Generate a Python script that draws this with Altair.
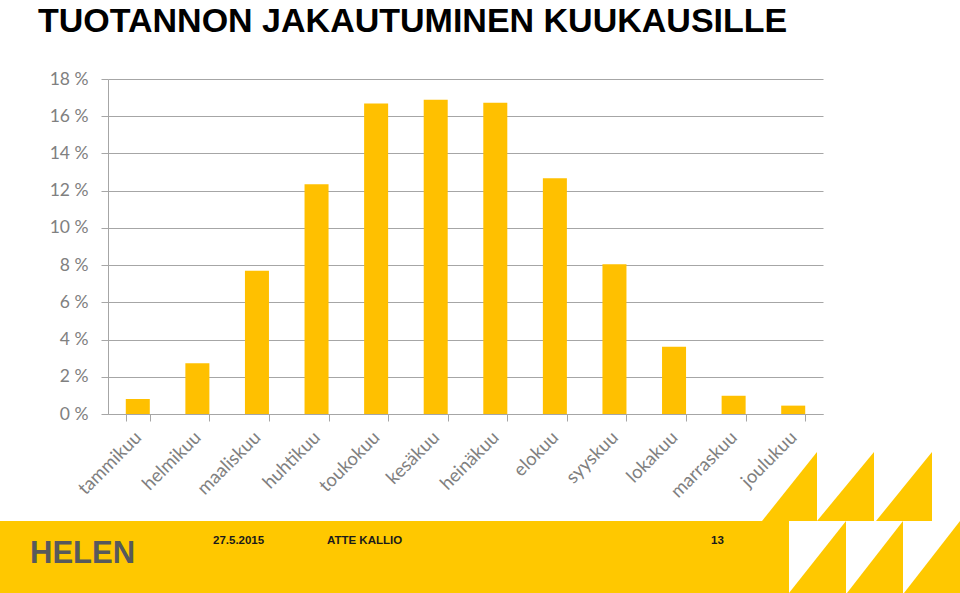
import altair as alt
import pandas as pd

# ---- data ----
months = ["tammikuu", "helmikuu", "maaliskuu", "huhtikuu", "toukokuu", "kesäkuu",
          "heinäkuu", "elokuu", "syyskuu", "lokakuu", "marraskuu", "joulukuu"]
shares = [0.80, 2.73, 7.70, 12.35, 16.68, 16.89, 16.73, 12.67, 8.04, 3.62, 0.98, 0.45]
y_ticks = [0, 2, 4, 6, 8, 10, 12, 14, 16, 18]
title_text = "TUOTANNON JAKAUTUMINEN KUUKAUSILLE"
logo_text = "HELEN"
date_text = "27.5.2015"
author_text = "ATTE KALLIO"
page_text = "13"

# ---- layout (page pixels) ----
W, H = 960, 593
PL, PT = 108, 79          # plot origin
PW, PH = 715, 335         # plot size
BAR_COLOR = "#FFC000"
FOOT_COLOR = "#FFC800"
GRID = "#a6a6a6"
LABEL = "#808080"

df = pd.DataFrame({"month": months, "share": shares})

bars = alt.Chart(df).mark_bar(color=BAR_COLOR).encode(
    x=alt.X("month:N", sort=months,
            scale=alt.Scale(paddingInner=0.597, paddingOuter=0.2985),
            axis=alt.Axis(title=None, labelAngle=-45, labelAlign="right",
                          labelBaseline="middle", labelFont="Lato", labelFontSize=18.5,
                          labelColor=LABEL, labelPadding=13, tickBand="extent",
                          tickSize=7, tickColor=GRID, domainColor=GRID, grid=False)),
    y=alt.Y("share:Q", scale=alt.Scale(domain=[0, 18], nice=False),
            axis=alt.Axis(title=None, values=y_ticks, labelExpr="datum.value + ' %'",
                          labelFont="Lato", labelFontSize=17.5, labelColor=LABEL,
                          labelPadding=13, tickSize=7, tickColor=GRID,
                          domainColor=GRID, grid=True, gridColor=GRID)),
)

# footer bar
one = pd.DataFrame({"a": [0]})
footer = alt.Chart(one).mark_rect(color=FOOT_COLOR).encode(
    x=alt.value(0 - PL), x2=alt.value(789 - PL),
    y=alt.value(521 - PT), y2=alt.value(H - PT),
)

# decorative triangles (bottom-left -> top-right hypotenuse, vertical right edge)
tri_geom = [(762, 817, 452, 521), (817, 874, 452, 521), (876, 932, 452, 521),
            (789, 846, 521, 593), (847, 903, 521, 593), (904, 960, 521, 593)]
rows = []
for i, (x0, x1, top, base) in enumerate(tri_geom):
    rows.append({"id": i, "x": x0 - PL, "y": base - PT, "y2": base - PT})
    rows.append({"id": i, "x": x1 - PL, "y": top - PT, "y2": base - PT})
tri = alt.Chart(pd.DataFrame(rows)).mark_area(color=FOOT_COLOR).encode(
    x=alt.X("x:Q", scale=None, axis=None),
    y=alt.Y("y:Q", scale=None, axis=None),
    y2="y2:Q",
    detail="id:N",
)


def label(text, x, y, size, color, font="Liberation Sans", weight="bold"):
    return alt.Chart(pd.DataFrame({"t": [text]})).mark_text(
        align="left", baseline="alphabetic", font=font, fontSize=size,
        fontWeight=weight, color=color
    ).encode(text="t:N", x=alt.value(x - PL), y=alt.value(y - PT))


title = label(title_text, 38, 32, 34, "#000000")
logo = label(logo_text, 30, 563, 31, "#58595B")
date = label(date_text, 213, 544, 11.5, "#1a1a1a")
author = label(author_text, 327, 544, 11.5, "#1a1a1a")
page = label(page_text, 711, 544, 11.5, "#1a1a1a")

chart = alt.layer(footer, tri, bars, title, logo, date, author, page).resolve_scale(
    x="independent", y="independent"
).properties(
    width=PW, height=PH,
    padding={"left": PL, "top": PT, "right": W - PL - PW, "bottom": H - PT - PH},
    autosize=alt.AutoSizeParams(type="none"),
    background="white",
).configure_view(stroke=None)

chart.save("out.html", embed_options={"renderer": "svg", "actions": False})
